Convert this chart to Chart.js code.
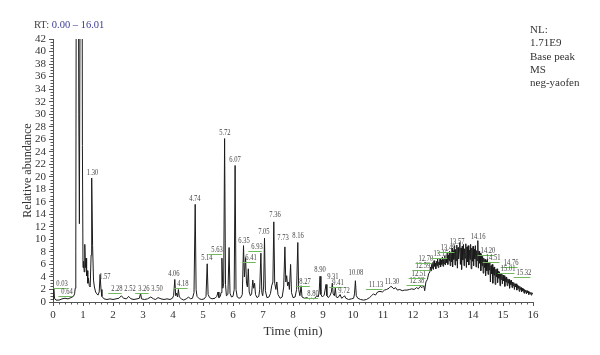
<!DOCTYPE html>
<html>
<head>
<meta charset="utf-8">
<script src="https://cdn.jsdelivr.net/npm/chart.js@4"></script>
<style>
  body { margin: 0; background: #fff; }
  #wrap { width: 600px; height: 355px; }
</style>
</head>
<body>
<div id="wrap"><canvas id="chrom"></canvas></div>
<script>
// retention time (min) and relative abundance (%), 0 - 12.5 min
const rtMin = [
  0.00, 0.02, 0.03, 0.05, 0.10, 0.20, 0.30, 0.40, 0.50, 0.60, 0.68, 0.72, 0.74, 0.76, 0.78, 0.80,
  0.83, 0.86, 0.88, 0.90, 0.93, 0.96, 0.98, 1.00, 1.02, 1.04, 1.06, 1.08, 1.10, 1.12, 1.14, 1.16,
  1.18, 1.21, 1.24, 1.27, 1.29, 1.32, 1.35, 1.38, 1.42, 1.46, 1.50, 1.54, 1.57, 1.60, 1.63, 1.70,
  1.80, 1.90, 2.00, 2.10, 2.20, 2.28, 2.35, 2.45, 2.52, 2.60, 2.70, 2.80, 2.88, 2.92, 2.95, 3.05,
  3.15, 3.26, 3.35, 3.42, 3.50, 3.60, 3.70, 3.80, 3.90, 3.98, 4.02, 4.06, 4.09, 4.12, 4.15, 4.18,
  4.21, 4.28, 4.36, 4.44, 4.52, 4.58, 4.65, 4.70, 4.74, 4.77, 4.80, 4.88, 4.96, 5.04, 5.10, 5.14,
  5.17, 5.22, 5.30, 5.40, 5.46, 5.50, 5.53, 5.58, 5.60, 5.63, 5.66, 5.69, 5.72, 5.75, 5.78, 5.83,
  5.87, 5.90, 5.95, 6.00, 6.04, 6.07, 6.10, 6.14, 6.20, 6.26, 6.31, 6.35, 6.38, 6.42, 6.45, 6.48,
  6.51, 6.54, 6.58, 6.62, 6.66, 6.69, 6.72, 6.75, 6.80, 6.86, 6.89, 6.93, 6.96, 6.99, 7.02, 7.05,
  7.08, 7.13, 7.20, 7.25, 7.29, 7.33, 7.36, 7.39, 7.43, 7.46, 7.50, 7.57, 7.64, 7.69, 7.73, 7.76,
  7.79, 7.82, 7.85, 7.88, 7.92, 7.95, 8.00, 8.07, 8.12, 8.16, 8.19, 8.23, 8.27, 8.30, 8.38, 8.46,
  8.54, 8.62, 8.70, 8.76, 8.80, 8.84, 8.87, 8.90, 8.93, 8.98, 9.04, 9.10, 9.13, 9.18, 9.24, 9.28,
  9.31, 9.34, 9.38, 9.41, 9.44, 9.50, 9.57, 9.62, 9.68, 9.72, 9.76, 9.85, 9.95, 10.02, 10.05, 10.08,
  10.11, 10.16, 10.25, 10.35, 10.45, 10.55, 10.62, 10.68, 10.75, 10.82, 10.90, 10.98, 11.05, 11.12, 11.20, 11.26,
  11.30, 11.36, 11.42, 11.48, 11.56, 11.64, 11.72, 11.80, 11.88, 11.96, 12.04, 12.12, 12.18, 12.24, 12.30, 12.36,
  12.39, 12.43, 12.48, 12.52
]
const relAbund = [
  0.4, 1.6, 2.2, 0.6, 0.3, 0.3, 0.5, 0.6, 0.5, 0.7, 0.9, 1.3, 2.2, 8, 70, 130,
  90, 30, 12.5, 45, 120, 90, 25, 5.5, 6.5, 4.8, 9.2, 5.5, 7.0, 4.2, 5.0, 3.0,
  3.8, 2.6, 2.4, 7.5, 19.8, 9, 3.5, 2.4, 1.6, 1.3, 1.1, 1.6, 4.4, 2.0, 0.9, 0.5,
  0.4, 0.5, 0.4, 0.5, 0.6, 1.0, 0.6, 0.5, 0.9, 0.5, 0.4, 0.5, 0.6, 1.4, 0.5, 0.4,
  0.5, 0.8, 0.5, 0.4, 0.7, 0.5, 0.4, 0.5, 0.4, 0.6, 1.0, 3.6, 1.0, 1.4, 0.8, 2.0,
  0.8, 0.5, 0.3, 0.5, 0.8, 0.5, 0.6, 1.5, 15.6, 2.0, 0.9, 0.5, 0.4, 0.5, 0.9, 6.1,
  1.2, 0.7, 0.5, 0.6, 0.9, 1.6, 0.7, 0.9, 1.5, 7.0, 2.2, 3.0, 26.1, 2.8, 1.0, 1.2,
  8.7, 1.4, 0.8, 0.9, 2.0, 21.8, 2.0, 0.8, 0.6, 0.7, 1.2, 9.0, 4.0, 7.1, 3.0, 2.4,
  5.3, 1.6, 1.0, 1.3, 3.5, 2.2, 3.0, 1.2, 0.7, 0.9, 2.0, 7.8, 1.5, 1.0, 2.4, 10.2,
  1.8, 0.7, 0.8, 1.4, 2.6, 3.2, 12.8, 3.0, 2.0, 3.2, 1.2, 0.6, 0.8, 2.4, 8.8, 3.2,
  4.2, 2.6, 3.2, 2.0, 6.0, 1.5, 0.7, 0.8, 2.0, 9.5, 2.0, 1.0, 2.6, 0.8, 0.6, 0.7,
  0.5, 0.6, 0.5, 0.8, 1.0, 0.8, 1.5, 4.1, 1.2, 0.8, 1.1, 2.8, 1.0, 0.7, 1.1, 1.6,
  3.0, 1.3, 1.0, 2.3, 0.8, 0.7, 1.2, 0.6, 0.8, 1.0, 0.6, 0.4, 0.5, 0.6, 1.3, 3.4,
  1.0, 0.6, 0.4, 0.3, 0.4, 0.7, 1.0, 1.3, 1.1, 1.6, 1.7, 1.6, 1.9, 2.0, 2.2, 2.5,
  2.4, 2.1, 2.3, 1.9, 2.0, 1.8, 1.9, 1.9, 2.0, 2.1, 2.0, 2.3, 2.1, 2.5, 2.3, 2.6,
  1.8, 3.2, 3.6, 4.5
]

// noisy hump at the end of the run, 12.56 - 16.00 min
const humpRt = [
  12.56, 12.58, 12.60, 12.62, 12.64, 12.66, 12.68, 12.70, 12.72, 12.74,
  12.76, 12.78, 12.80, 12.82, 12.84, 12.86, 12.88, 12.90, 12.92, 12.94,
  12.96, 12.98, 13.00, 13.02, 13.04, 13.06, 13.08, 13.10, 13.12, 13.14,
  13.16, 13.18, 13.20, 13.22, 13.24, 13.26, 13.28, 13.30, 13.32, 13.34,
  13.36, 13.38, 13.40, 13.42, 13.44, 13.46, 13.48, 13.50, 13.52, 13.54,
  13.56, 13.58, 13.60, 13.62, 13.64, 13.66, 13.68, 13.70, 13.72, 13.74,
  13.76, 13.78, 13.80, 13.82, 13.84, 13.86, 13.88, 13.90, 13.92, 13.94,
  13.96, 13.98, 14.00, 14.02, 14.04, 14.06, 14.08, 14.10, 14.12, 14.14,
  14.16, 14.18, 14.20, 14.22, 14.24, 14.26, 14.28, 14.30, 14.32, 14.34,
  14.36, 14.38, 14.40, 14.42, 14.44, 14.46, 14.48, 14.50, 14.52, 14.54,
  14.56, 14.58, 14.60, 14.62, 14.64, 14.66, 14.68, 14.70, 14.72, 14.74,
  14.76, 14.78, 14.80, 14.82, 14.84, 14.86, 14.88, 14.90, 14.92, 14.94,
  14.96, 14.98, 15.00, 15.02, 15.04, 15.06, 15.08, 15.10, 15.12, 15.14,
  15.16, 15.18, 15.20, 15.22, 15.24, 15.26, 15.28, 15.30, 15.32, 15.34,
  15.36, 15.38, 15.40, 15.42, 15.44, 15.46, 15.48, 15.50, 15.52, 15.54,
  15.56, 15.58, 15.60, 15.62, 15.64, 15.66, 15.68, 15.70, 15.72, 15.74,
  15.76, 15.78, 15.80, 15.82, 15.84, 15.86, 15.88, 15.90, 15.92, 15.94,
  15.96, 15.98, 16.00
]
const humpAbund = [
  4.8, 5.6, 5.0, 6.0, 5.4, 6.3, 5.2, 6.6, 5.7, 6.2,
  5.3, 6.5, 5.8, 6.9, 5.5, 6.4, 5.9, 7.0, 5.6, 6.7,
  6.0, 7.2, 5.7, 6.8, 6.1, 7.4, 5.9, 7.0, 6.3, 7.8,
  6.0, 7.5, 6.6, 8.1, 5.8, 7.9, 6.4, 8.6, 5.6, 8.2,
  6.8, 9.0, 5.9, 8.4, 6.6, 9.1, 5.4, 8.7, 6.9, 8.2,
  9.5, 6.0, 8.6, 5.2, 8.9, 6.7, 9.2, 5.8, 8.5, 7.0,
  9.3, 5.5, 8.8, 6.4, 9.0, 5.9, 8.3, 6.8, 9.2, 5.3,
  8.6, 6.5, 8.9, 5.8, 8.4, 6.9, 9.0, 5.6, 8.2, 6.6,
  9.8, 5.4, 8.1, 6.2, 7.8, 5.0, 7.6, 5.8, 7.3, 4.6,
  7.0, 5.5, 6.8, 4.2, 6.6, 5.0, 6.9, 4.4, 6.2, 5.1,
  6.4, 3.2, 5.8, 4.5, 6.0, 3.0, 5.5, 4.3, 5.6, 2.8,
  5.2, 4.0, 5.3, 3.1, 4.9, 3.8, 4.8, 2.6, 4.5, 3.6,
  4.6, 2.9, 4.3, 3.4, 4.2, 2.5, 3.9, 3.2, 4.0, 2.6,
  3.7, 3.0, 3.6, 2.2, 3.4, 2.8, 3.5, 2.3, 3.2, 2.6,
  3.1, 2.0, 2.9, 2.4, 2.9, 1.9, 2.7, 2.2, 2.6, 1.7,
  2.5, 2.0, 2.3, 1.6, 2.2, 1.8, 2.1, 1.4, 2.0, 1.6,
  1.9, 1.3, 1.8, 1.5, 1.7, 1.2, 1.6, 1.4, 1.5, 1.1,
  1.5, 1.3, 1.4
]

// peak annotations: text, anchor (rt, abundance) of the label; displaced labels get a green leader
const peakNames = [
  "0.03", "0.64", "1.30", "1.57", "2.28", "2.52", "3.26", "3.50", "4.06", "4.18", "4.74",
  "5.14", "5.63", "5.72", "6.07", "6.35", "6.41", "6.93", "7.05", "7.36", "7.73", "8.16",
  "8.27", "8.80", "8.90", "9.31", "9.41", "9.72", "10.08", "11.13", "11.30", "12.38", "12.51",
  "12.59", "12.70", "13.15", "13.49", "13.57", "14.16", "14.20", "14.51", "14.76", "15.01", "15.32"
]
const labelRt = [
  0.30, 0.47, 1.32, 1.73, 2.13, 2.57, 3.03, 3.47, 4.03, 4.33, 4.73,
  5.13, 5.47, 5.73, 6.07, 6.37, 6.60, 6.80, 7.03, 7.40, 7.67, 8.17,
  8.40, 8.67, 8.90, 9.33, 9.50, 9.70, 10.10, 10.77, 11.30, 12.13, 12.20,
  12.33, 12.43, 12.93, 13.17, 13.47, 14.17, 14.50, 14.67, 15.27, 15.17, 15.70
]
const labelAbund = [
  2.87, 1.60, 20.6, 3.99, 2.08, 2.08, 2.08, 2.08, 4.47, 2.87, 16.45,
  7.03, 8.30, 26.99, 22.68, 9.74, 7.03, 8.78, 11.18, 13.89, 10.22, 10.54,
  3.19, 1.28, 5.11, 3.99, 3.03, 1.76, 4.63, 2.71, 3.19, 3.35, 4.47,
  5.75, 6.87, 7.67, 8.62, 9.58, 10.38, 8.14, 7.03, 6.23, 5.27, 4.63
]
const labelMoved = [
  1, 1, 0, 0, 1, 0, 1, 0, 0, 1, 0,
  0, 1, 0, 0, 0, 1, 1, 0, 0, 0, 0,
  1, 1, 0, 0, 1, 0, 0, 1, 0, 1, 1,
  1, 1, 1, 1, 0, 0, 1, 1, 1, 1, 1
]

const infoLines = ["NL:", "1.71E9", "Base peak", "MS", "neg-yaofen"]
const rtRange = "0.00 – 16.01"

const serif = '"Liberation Serif", "DejaVu Serif", serif'
const allRt = rtMin.concat(humpRt)
const allAbund = relAbund.concat(humpAbund)
const points = allRt.map((t, i) => ({ x: t, y: allAbund[i] }))

// small ticks between the labelled ones
const minorTicks = {
  id: "minorTicks",
  afterDraw(chart) {
    const { ctx, scales: { x, y } } = chart
    ctx.save()
    ctx.strokeStyle = "#555"
    ctx.lineWidth = 1
    ctx.beginPath()
    for (let i = 0; i <= 80; i++) {
      if (i % 5 === 0) continue
      const px = Math.round(x.getPixelForValue(i / 5)) + 0.5
      ctx.moveTo(px, y.bottom)
      ctx.lineTo(px, y.bottom + 2.5)
    }
    for (let i = 0; i <= 84; i++) {
      if (i % 4 === 0) continue
      const py = Math.round(y.getPixelForValue(i / 2)) + 0.5
      ctx.moveTo(x.left, py)
      ctx.lineTo(x.left - 2.5, py)
    }
    ctx.stroke()
    ctx.restore()
  }
}

const peakLabels = {
  id: "peakLabels",
  afterDatasetsDraw(chart) {
    const { ctx, scales: { x, y } } = chart
    ctx.save()
    ctx.font = "8px " + serif
    ctx.textAlign = "center"
    ctx.textBaseline = "middle"
    peakNames.forEach((name, i) => {
      const px = x.getPixelForValue(labelRt[i])
      const py = y.getPixelForValue(labelAbund[i])
      const w = ctx.measureText(name).width * 0.82
      if (labelMoved[i]) {
        ctx.strokeStyle = "#72b85e"
        ctx.lineWidth = 1
        ctx.beginPath()
        ctx.moveTo(px - w / 2 - 3, Math.round(py + 4) + 0.5)
        ctx.lineTo(px + w / 2 - 1, Math.round(py + 4) + 0.5)
        ctx.stroke()
      }
      ctx.save()
      ctx.translate(px, py)
      ctx.scale(0.82, 1)
      ctx.fillStyle = "#444"
      ctx.fillText(name, 0, 0)
      ctx.restore()
    })
    ctx.restore()
  }
}

const headerText = {
  id: "headerText",
  afterDraw(chart) {
    const { ctx } = chart
    ctx.save()
    ctx.font = "10.5px " + serif
    ctx.textBaseline = "middle"
    ctx.textAlign = "left"
    ctx.fillStyle = "#444"
    ctx.fillText("RT: ", 34, 25)
    const w = ctx.measureText("RT: ").width
    ctx.fillStyle = "#3b3b94"
    ctx.fillText(rtRange, 34 + w, 25)
    ctx.font = "11px " + serif
    ctx.fillStyle = "#333"
    infoLines.forEach((line, i) => ctx.fillText(line, 530, 30 + i * 13.4))
    ctx.restore()
  }
}

new Chart(document.getElementById("chrom"), {
  type: "line",
  data: {
    datasets: [{
      data: points,
      borderColor: "#1b1b1b",
      borderWidth: 1,
      pointRadius: 0,
      tension: 0
    }]
  },
  options: {
    responsive: true,
    maintainAspectRatio: false,
    animation: false,
    layout: { padding: { top: 39, right: 67, left: 0, bottom: 0 } },
    plugins: {
      legend: { display: false },
      tooltip: { enabled: false }
    },
    scales: {
      x: {
        type: "linear",
        min: 0,
        max: 16,
        ticks: { stepSize: 1, autoSkip: false, maxRotation: 0, padding: 3, color: "#333", font: { family: serif, size: 11 } },
        grid: { drawOnChartArea: false, tickLength: 4, color: "#555" },
        border: { color: "#555" },
        title: { display: true, text: "Time (min)", color: "#333", font: { family: serif, size: 13 }, padding: { top: 0, bottom: 16 } },
        afterFit(scale) { scale.height = 53 }
      },
      y: {
        min: 0,
        max: 42,
        ticks: { stepSize: 2, autoSkip: false, padding: 3, color: "#333", font: { family: serif, size: 11 } },
        grid: { drawOnChartArea: false, tickLength: 4, color: "#555" },
        border: { color: "#555" },
        title: { display: true, text: "Relative abundance", color: "#333", font: { family: serif, size: 12 }, padding: { top: 21, bottom: 0 } },
        afterFit(scale) { scale.width = 53 }
      }
    }
  },
  plugins: [minorTicks, peakLabels, headerText]
})
</script>
</body>
</html>
